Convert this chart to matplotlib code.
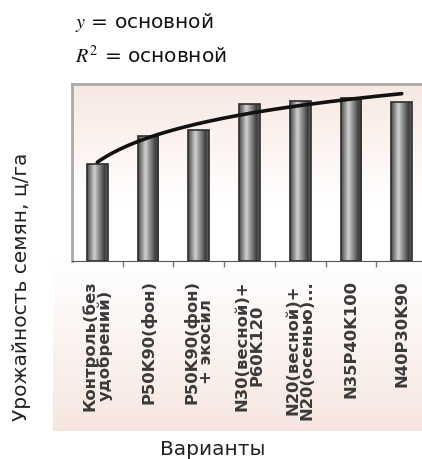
import numpy as np
import matplotlib
matplotlib.use('Agg')
from matplotlib import pyplot as plt
from matplotlib.colors import LinearSegmentedColormap

plt.rcParams['mathtext.fontset'] = 'stix'
plt.rcParams['font.family'] = ['DejaVu Sans']

variants = ['Контроль(без\nудобрений)', 'P50K90(фон)', 'P50K90(фон)\n+ экосил',
            'N30(весной)+\nP60K120', 'N20(весной)+\nN20(осенью)...',
            'N35P40K100', 'N40P30K90']
yields = [9.7, 12.5, 13.1, 15.7, 16.0, 16.3, 15.9]

W, H = 422, 460
fig = plt.figure(figsize=(W / 100, H / 100), dpi=100)

def box(x0, y0, x1, y1):
  # pixel box (top-left origin) -> figure fraction
  return [x0 / W, 1 - y1 / H, (x1 - x0) / W, (y1 - y0) / H]

# lower chart area, white -> pink
bg = fig.add_axes(box(53, 262, 422, 432), zorder=-2)
pink = LinearSegmentedColormap.from_list('pk', ['#ffffff', '#fbf3f0', '#f6e6df'])
bg.imshow(np.linspace(0, 1, 64).reshape(-1, 1), cmap=pink, aspect='auto',
          extent=[0, 1, 0, 1])
bg.axis('off')

ax = fig.add_axes(box(72, 85, 422, 262))
ax.set_facecolor('none')
top = LinearSegmentedColormap.from_list('tp', ['#ffffff', '#ffffff', '#fcf3f0', '#f8e8e3'])
ax.imshow(np.linspace(0, 1, 64).reshape(-1, 1), cmap=top, aspect='auto',
          extent=[0, 1, 0, 1], origin='lower', transform=ax.transAxes, zorder=0)

x = np.arange(len(variants))
bars = ax.bar(x, yields, width=0.41, color='none', edgecolor='#2e2e2e', lw=1.2, zorder=3)

metal = LinearSegmentedColormap.from_list('mt', [(0, '#4a4a4a'), (0.35, '#d0d0d0'),
                                                 (0.85, '#3c3c3c'), (1, '#6a6a6a')])
grad = np.linspace(0, 1, 64).reshape(1, -1)
for b in bars:
  im = ax.imshow(grad, cmap=metal, aspect='auto', zorder=2,
                 extent=[b.get_x(), b.get_x() + b.get_width(), 0, b.get_height()])
  im.set_clip_path(b)

# logarithmic trend line
n = x + 1
a, c = np.polyfit(np.log(n), yields, 1)
xs = np.linspace(1, len(variants), 200)
ax.plot(xs - 1, a * np.log(xs) + c, color='#111111', lw=2.6, zorder=4,
        solid_capstyle='round')

ax.set_xlim(-0.5, 6.4)
ax.set_ylim(0, 17.7)
ax.set_yticks([])
ax.set_xticks(x)
ax.set_xticklabels(variants, rotation=90, fontsize=11.8, fontweight='bold',
                   color='#3a3a3a', linespacing=0.95, multialignment='center')
ax.set_xticks(x[:-1] + 0.5, minor=True)
ax.tick_params(axis='x', which='major', length=0, pad=13)
ax.tick_params(axis='x', which='minor', length=4, color='#777777', width=1)

for s in ['top', 'left']:
  ax.spines[s].set_color('#aaaaaa')
  ax.spines[s].set_linewidth(2)
ax.spines['bottom'].set_color('#555555')
ax.spines['right'].set_visible(False)

fig.text(75 / W, 1 - 28 / H, '$y$ = основной', fontsize=14.5, color='#111111',
         va='baseline', ha='left')
fig.text(75 / W, 1 - 63 / H, '$R^2$ = основной', fontsize=14.5, color='#111111',
         va='baseline', ha='left')

fig.text(22 / W, 1 - 287 / H, 'Урожайность семян, ц/га', fontsize=14.5,
         rotation=90, ha='center', va='center', color='#222222')
fig.text(213 / W, 1 - 455 / H, 'Варианты', fontsize=14.5, ha='center',
         va='baseline', color='#222222')

fig.savefig('out.png', dpi=100)
